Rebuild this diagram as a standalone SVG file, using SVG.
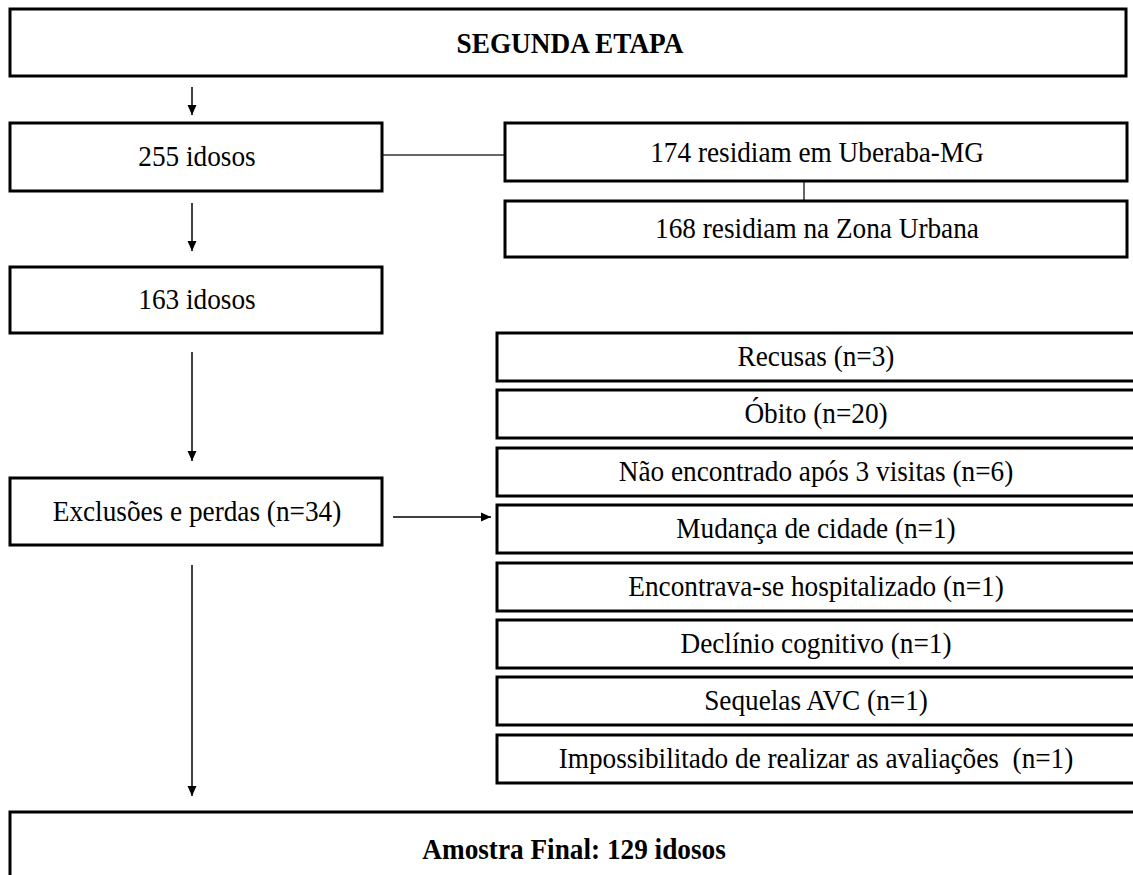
<svg xmlns="http://www.w3.org/2000/svg" width="1133" height="875" viewBox="0 0 1133 875">
  <style>
    .box { fill: #ffffff; stroke: #000000; stroke-width: 3; }
    .lbl { font-family: "Liberation Serif", "Times New Roman", serif; font-size: 29px; fill: #000000; text-anchor: middle; }
    .bold { font-weight: bold; }
    .link { fill: none; stroke: #000000; stroke-width: 1.5; }
    .plain { fill: none; stroke: #333333; stroke-width: 1.5; }
  </style>
  <defs>
    <marker id="arrow" markerUnits="userSpaceOnUse" markerWidth="10" markerHeight="12" viewBox="0 0 10 12" refX="10" refY="6" orient="auto">
      <path d="M0,1.5 L10,6 L0,10.5 Z" fill="#000000"/>
    </marker>
  </defs>
  <rect width="1133" height="875" fill="#ffffff"/>

  <!-- connectors -->
  <g id="connectors">
    <line class="link" x1="192" y1="87" x2="192" y2="115" marker-end="url(#arrow)"/>
    <line class="link" x1="192" y1="203" x2="192" y2="251" marker-end="url(#arrow)"/>
    <line class="link" x1="192" y1="352" x2="192" y2="461" marker-end="url(#arrow)"/>
    <line class="link" x1="192" y1="565" x2="192" y2="796" marker-end="url(#arrow)"/>
    <line class="link" x1="393" y1="517" x2="491" y2="517" marker-end="url(#arrow)"/>
    <line class="plain" x1="382" y1="155" x2="505" y2="155"/>
    <line class="plain" x1="804" y1="181" x2="804" y2="201"/>
  </g>

  <!-- main column -->
  <g id="segunda-etapa">
    <rect class="box" x="10" y="9" width="1116" height="67"/>
    <text class="lbl bold" transform="translate(570,53) scale(0.94,1)">SEGUNDA ETAPA</text>
  </g>
  <g id="n255">
    <rect class="box" x="10" y="123" width="372" height="68"/>
    <text class="lbl" transform="translate(197,166) scale(0.94,1)">255 idosos</text>
  </g>
  <g id="uberaba">
    <rect class="box" x="505" y="123" width="622" height="58"/>
    <text class="lbl" transform="translate(817,162) scale(0.94,1)">174 residiam em Uberaba-MG</text>
  </g>
  <g id="zona-urbana">
    <rect class="box" x="505" y="201" width="622" height="56"/>
    <text class="lbl" transform="translate(817,238) scale(0.94,1)">168 residiam na Zona Urbana</text>
  </g>
  <g id="n163">
    <rect class="box" x="10" y="267" width="372" height="66"/>
    <text class="lbl" transform="translate(197,309) scale(0.94,1)">163 idosos</text>
  </g>
  <g id="exclusoes">
    <rect class="box" x="10" y="478" width="372" height="67"/>
    <text class="lbl" transform="translate(197,521) scale(0.94,1)">Exclusões e perdas (n=34)</text>
  </g>

  <!-- reasons list -->
  <g id="recusas">
    <rect class="box" x="497" y="333" width="645" height="48"/>
    <text class="lbl" transform="translate(816,366) scale(0.94,1)">Recusas (n=3)</text>
  </g>
  <g id="obito">
    <rect class="box" x="497" y="390" width="645" height="48"/>
    <text class="lbl" transform="translate(816,423) scale(0.94,1)">Óbito (n=20)</text>
  </g>
  <g id="nao-encontrado">
    <rect class="box" x="497" y="448" width="645" height="48"/>
    <text class="lbl" transform="translate(816,481) scale(0.94,1)">Não encontrado após 3 visitas (n=6)</text>
  </g>
  <g id="mudanca">
    <rect class="box" x="497" y="505" width="645" height="48"/>
    <text class="lbl" transform="translate(816,538) scale(0.94,1)">Mudança de cidade (n=1)</text>
  </g>
  <g id="hospitalizado">
    <rect class="box" x="497" y="563" width="645" height="48"/>
    <text class="lbl" transform="translate(816,596) scale(0.94,1)">Encontrava-se hospitalizado (n=1)</text>
  </g>
  <g id="declinio">
    <rect class="box" x="497" y="620" width="645" height="48"/>
    <text class="lbl" transform="translate(816,653) scale(0.94,1)">Declínio cognitivo (n=1)</text>
  </g>
  <g id="sequelas">
    <rect class="box" x="497" y="677" width="645" height="48"/>
    <text class="lbl" transform="translate(816,710) scale(0.94,1)">Sequelas AVC (n=1)</text>
  </g>
  <g id="impossibilitado">
    <rect class="box" x="497" y="735" width="645" height="48"/>
    <text class="lbl" transform="translate(816,768) scale(0.94,1)" xml:space="preserve">Impossibilitado de realizar as avaliações  (n=1)</text>
  </g>

  <!-- final sample -->
  <g id="amostra-final">
    <rect class="box" x="10" y="812" width="1135" height="80"/>
    <text class="lbl bold" transform="translate(574,859) scale(0.94,1)">Amostra Final: 129 idosos</text>
  </g>
</svg>
